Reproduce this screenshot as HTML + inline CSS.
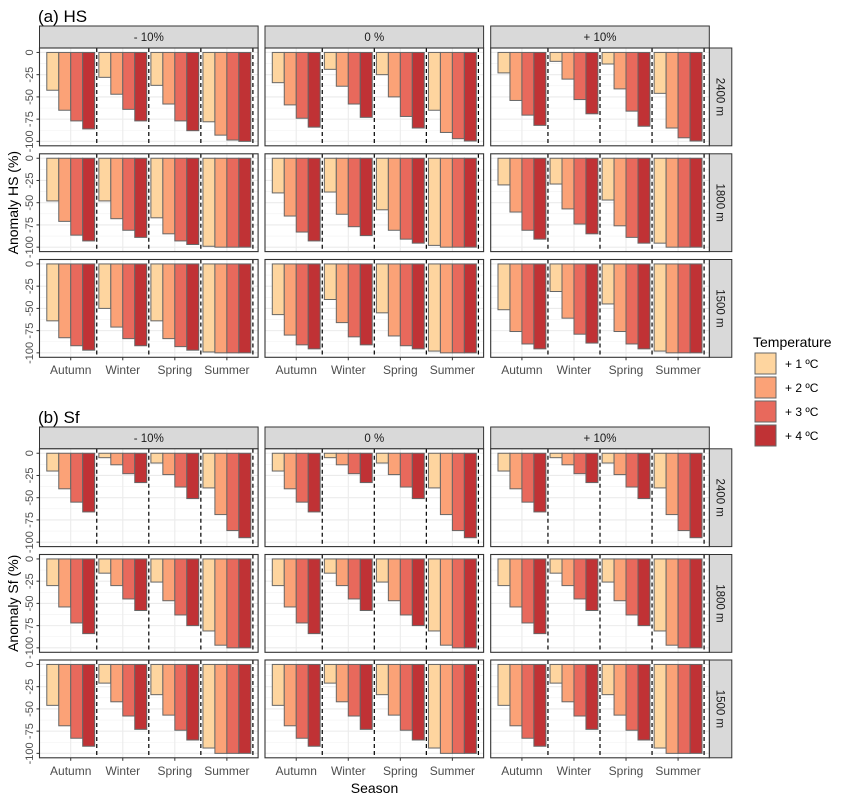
<!DOCTYPE html>
<html><head><meta charset="utf-8">
<style>
html,body{margin:0;padding:0;background:#fff;}
svg{display:block;font-family:"Liberation Sans",Arial,sans-serif;}
</style></head>
<body>
<svg id="chart" width="844" height="800" viewBox="0 0 844 800" xmlns="http://www.w3.org/2000/svg"></svg>
<script>
const seasons = ["Autumn","Winter","Spring","Summer"];
const temps = ["+ 1 ºC","+ 2 ºC","+ 3 ºC","+ 4 ºC"];
const precipLabels = ["- 10%","0 %","+ 10%"];
const elevLabels = ["2400 m","1800 m","1500 m"];
const yTicks = [0,-25,-50,-75,-100];
const yTickLabels = ["0","-25","-50","-75","-100"];
const colors = ["#FED59F","#FBA277","#E8695C","#C03235"];

// HS anomalies [season][temperature]
const hs_m10_2400 = [[-42.5,-65,-77,-86],[-28,-47,-64,-77],[-37,-58,-77,-88],[-78,-93,-98.5,-100]];
const hs_m10_1800 = [[-48,-71,-86.5,-93],[-48,-68,-81,-89],[-67,-85,-93,-97],[-99,-100,-100,-100]];
const hs_m10_1500 = [[-64,-83,-92,-97],[-50,-71,-84,-92],[-64,-84,-93,-97],[-99,-100,-100,-100]];
const hs_0_2400 = [[-34,-59,-74,-84],[-19,-38,-58,-73],[-25,-50,-72,-85],[-65,-90,-97,-99.6]];
const hs_0_1800 = [[-39,-65,-83,-93],[-38,-63,-77,-87],[-58,-81,-91,-95.5],[-98,-100,-100,-100]];
const hs_0_1500 = [[-57,-80,-91,-95.5],[-40,-66,-82,-91],[-55,-81,-92,-95.5],[-98,-100,-100,-100]];
const hs_p10_2400 = [[-23,-54,-70.5,-82],[-10,-30,-53,-69],[-13,-41,-66,-83],[-46,-85,-96,-99.6]];
const hs_p10_1800 = [[-30,-60.5,-81,-91],[-29,-57,-74,-85],[-47,-76,-89,-95.5],[-95.5,-100,-100,-100]];
const hs_p10_1500 = [[-51.5,-76,-90,-95.5],[-31,-61,-79,-89],[-45,-76,-90,-95.5],[-98,-100,-100,-100]];

// Sf anomalies [season][temperature]
const sf_m10_2400 = [[-20,-40,-55,-66],[-5,-13,-23,-33],[-11,-24,-38,-51],[-39,-69,-87,-95]];
const sf_m10_1800 = [[-30,-54,-72,-84],[-16,-30,-45,-58],[-26,-47,-63,-75],[-81,-97,-100,-100]];
const sf_m10_1500 = [[-46,-69,-83,-92],[-21,-42,-58,-73],[-34,-57,-74,-85],[-94,-100,-100,-100]];
const sf_0_2400 = [[-20,-40,-55,-66],[-5,-13,-23,-33],[-11,-24,-38,-51],[-39,-69,-87,-95]];
const sf_0_1800 = [[-30,-54,-72,-84],[-16,-30,-45,-58],[-26,-47,-63,-75],[-81,-97,-100,-100]];
const sf_0_1500 = [[-46,-69,-83,-92],[-21,-42,-58,-73],[-34,-57,-74,-85],[-94,-100,-100,-100]];
const sf_p10_2400 = [[-20,-40,-55,-66],[-5,-13,-23,-33],[-11,-24,-38,-51],[-39,-69,-87,-95]];
const sf_p10_1800 = [[-30,-54,-72,-84],[-16,-30,-45,-58],[-26,-47,-63,-75],[-81,-97,-100,-100]];
const sf_p10_1500 = [[-46,-69,-83,-92],[-21,-42,-58,-73],[-34,-57,-74,-85],[-94,-100,-100,-100]];

const svg = document.getElementById('chart');
const NS = "http://www.w3.org/2000/svg";
function mk(tag, attrs, parent){
  const e = document.createElementNS(NS, tag);
  for (const k in attrs) e.setAttribute(k, attrs[k]);
  (parent||svg).appendChild(e);
  return e;
}
function txt(str, attrs, parent){ const t = mk('text', attrs, parent); t.textContent = str; return t; }

const colX = [39.5, 265, 490.7];
const PW = 218.6;
const PH = 97.8;

function drawBlock(prefix, title, titleY, stripTop, rowTops, data, yTitle, xLabelY){
  const tt = txt(title, {x:38, y:titleY, 'font-size':17, fill:'#000'});
  
  
  // top strips
  for (let c=0;c<3;c++){
    const g = mk('g', {});
    
    
    mk('rect', {x:colX[c], y:stripTop, width:PW, height:rowTops[0]-stripTop, fill:'#D9D9D9', stroke:'#333', 'stroke-width':1}, g);
    txt(precipLabels[c], {x:colX[c]+PW/2, y:(stripTop+rowTops[0])/2+4, 'text-anchor':'middle', 'font-size':11.5, fill:'#1A1A1A'}, g);
  }
  for (let r=0;r<3;r++){
    const py = rowTops[r];
    const yS = v => py + (5 - v)/110*PH;
    // right strip
    const gs = mk('g', {});
    
    
    mk('rect', {x:colX[2]+PW, y:py, width:22.5, height:PH, fill:'#D9D9D9', stroke:'#333', 'stroke-width':1}, gs);
    const cx = colX[2]+PW+11.25, cy = py+PH/2;
    txt(elevLabels[r], {x:cx, y:cy+4, 'text-anchor':'middle', 'font-size':11.5, fill:'#1A1A1A', transform:'rotate(90 '+cx+' '+(cy)+')'}, gs);
    // y ticks
    const gy = mk('g', {});
    
    
    yTicks.forEach((v,i)=>{
      const y = yS(v);
      mk('line', {x1:colX[0]-3, x2:colX[0], y1:y, y2:y, stroke:'#333', 'stroke-width':1}, gy);
      txt(yTickLabels[i], {x:33, y:y, 'text-anchor':'middle', 'font-size':11, fill:'#4D4D4D', transform:'rotate(-90 33 '+y+')'}, gy);
    });
    for (let c=0;c<3;c++){
      const px = colX[c];
      const xS = u => px + (u + 0.6)*PW/4.2;
      const unit = PW/4.2;
      const g = mk('g', {});
      
      
      mk('rect', {x:px, y:py, width:PW, height:PH, fill:'#fff'}, g);
      // minor grid
      for (let v=-87.5; v<=0; v+=25){
        mk('line', {x1:px, x2:px+PW, y1:yS(v), y2:yS(v), stroke:'#F2F2F2', 'stroke-width':0.6}, g);
      }
      yTicks.forEach(v=>{
        mk('line', {x1:px, x2:px+PW, y1:yS(v), y2:yS(v), stroke:'#EBEBEB', 'stroke-width':1.1}, g);
      });
      for (let s=0;s<4;s++){
        mk('line', {x1:xS(s), x2:xS(s), y1:py, y2:py+PH, stroke:'#EBEBEB', 'stroke-width':1.1}, g);
      }
      const vals = data[c][r];
      for (let s=0;s<4;s++){
        for (let t=0;t<4;t++){
          const x0 = xS(s) - 0.46*unit + t*0.23*unit;
          const v = vals[s][t];
          const b = mk('rect', {x:x0, y:yS(0), width:0.23*unit, height:Math.max(0,yS(v)-yS(0)), fill:colors[t], stroke:'#666', 'stroke-width':1}, g);
          
          
        }
      }
      for (let s=0;s<4;s++){
        const x = xS(s+0.5);
        mk('line', {x1:x, x2:x, y1:py, y2:py+PH, stroke:'#000', 'stroke-width':1.2, 'stroke-dasharray':'4,3'}, g);
      }
      mk('rect', {x:px, y:py, width:PW, height:PH, fill:'none', stroke:'#333', 'stroke-width':1.1}, g);
      if (r===2){
        for (let s=0;s<4;s++){
          mk('line', {x1:xS(s), x2:xS(s), y1:py+PH, y2:py+PH+3, stroke:'#333', 'stroke-width':1}, g);
          txt(seasons[s], {x:xS(s), y:xLabelY, 'text-anchor':'middle', 'font-size':12, fill:'#4D4D4D'}, g);
        }
      }
    }
  }
  const midY = (rowTops[0]+rowTops[2]+PH)/2;
  const yt = txt(yTitle, {x:18, y:midY, 'text-anchor':'middle', 'font-size':14, fill:'#000', transform:'rotate(-90 18 '+midY+')'});
  
  
}

drawBlock('hs', '(a) HS', 22, 26, [48, 153.8, 259.5],
  [[hs_m10_2400,hs_m10_1800,hs_m10_1500],[hs_0_2400,hs_0_1800,hs_0_1500],[hs_p10_2400,hs_p10_1800,hs_p10_1500]],
  'Anomaly HS (%)', 374);
drawBlock('sf', '(b) Sf', 423, 427, [448.8, 554.5, 660],
  [[sf_m10_2400,sf_m10_1800,sf_m10_1500],[sf_0_2400,sf_0_1800,sf_0_1500],[sf_p10_2400,sf_p10_1800,sf_p10_1500]],
  'Anomaly Sf (%)', 775);

const xt = txt('Season', {x:374.5, y:793, 'text-anchor':'middle', 'font-size':14, fill:'#000'});



// legend
const lg = mk('g', {});


txt('Temperature', {x:753, y:347, 'font-size':14, fill:'#000'}, lg);
temps.forEach((t,i)=>{
  const e = mk('g', {}, lg);
  
  
  const y = 353 + i*24;
  mk('rect', {x:755, y:y, width:21, height:21, fill:colors[i], stroke:'#666', 'stroke-width':1}, e);
  txt(t, {x:785, y:y+15, 'font-size':12, fill:'#000'}, e);
});
</script>
</body></html>
